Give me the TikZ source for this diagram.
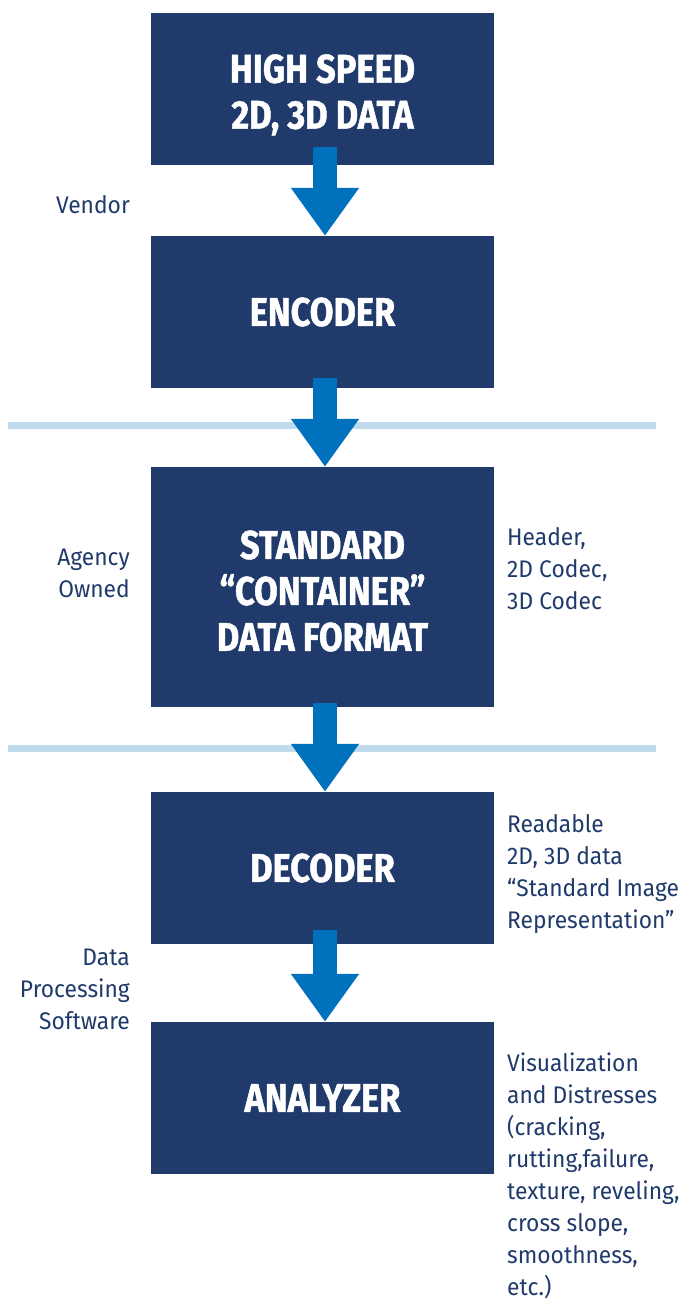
\documentclass[tikz,border=0pt]{standalone}
\usepackage{fontspec}
\usetikzlibrary{arrows.meta,calc}
\newfontfamily\boxfont[FakeStretch=0.86,FakeBold=1.2]{Fira Sans}
\newfontfamily\labfont[FakeStretch=0.95]{Fira Sans}
\definecolor{navy}{HTML}{1F3A6B}
\definecolor{arrowblue}{HTML}{0071BC}
\definecolor{sepline}{HTML}{C0DBEE}
\tikzset{
  stage/.style={fill=navy, draw=none, inner sep=0pt, minimum width=343pt, minimum height=152pt},
  boxtext/.style={text=white, align=center, inner sep=0pt,
    font=\boxfont\bfseries\fontsize{40}{46}\selectfont},
  flow/.style={draw=arrowblue, line width=24pt, line cap=butt,
    -{Triangle[width=65pt,length=48pt]}},
  sep/.style={draw=sepline, line width=7pt},
  leftlab/.style={anchor=east, align=right, inner sep=0pt, text=navy,
    font=\labfont\fontsize{24}{32}\selectfont},
  rightlab/.style={anchor=west, align=left, inner sep=0pt, text=navy,
    font=\labfont\fontsize{24}{32}\selectfont},
}
\begin{document}
\begin{tikzpicture}[x=1pt,y=-1pt]
\useasboundingbox (0,0) rectangle (684,1302);
% separator lines
\coordinate (s1a) at (8,425); \coordinate (s1b) at (656,425);
\coordinate (s2a) at (8,748); \coordinate (s2b) at (656,748);
\draw[sep] (s1a) -- (s1b);
\draw[sep] (s2a) -- (s2b);
% boxes
\node[stage, label={[boxtext, yshift=-6pt]center:HIGH SPEED\\2D, 3D DATA}] (b1) at (322.5,89) {};
\node[stage, label={[boxtext]center:ENCODER}] (b2) at (322.5,312) {};
\node[stage, minimum height=240pt, label={[boxtext, yshift=-4pt]center:STANDARD\\“CONTAINER”\\DATA FORMAT}] (b3) at (322.5,587) {};
\node[stage, label={[boxtext]center:DECODER}] (b4) at (322.5,868) {};
\node[stage, label={[boxtext]center:ANALYZER}] (b5) at (322.5,1098) {};
% arrows
\draw[flow] ($(b1.south)+(2.5,-18)$) -- ($(b2.north)+(2.5,0)$);
\draw[flow] ($(b2.south)+(2.5,-10)$) -- ($(b3.north)+(2.5,0)$);
\draw[flow] ($(b3.south)+(2.5,-4)$) -- ($(b4.north)+(2.5,0)$);
\draw[flow] ($(b4.south)+(2.5,-14)$) -- ($(b5.north)+(2.5,0)$);
% left labels
\node[leftlab] (l1) at (130,205) {Vendor};
\node[leftlab] (l2) at (130,573) {Agency\\Owned};
\node[leftlab] (l3) at (130,989) {Data\\Processing\\Software};
% right labels
\node[rightlab] (r1) at (507,569) {Header,\\2D Codec,\\3D Codec};
\node[rightlab] (r2) at (507,874) {Readable\\2D, 3D data\\“Standard Image\\Representation”};
\node[rightlab] (r3) at (507,1176) {Visualization\\and Distresses\\(cracking,\\rutting,failure,\\texture, reveling,\\cross slope,\\smoothness,\\etc.)};
\end{tikzpicture}
\end{document}
